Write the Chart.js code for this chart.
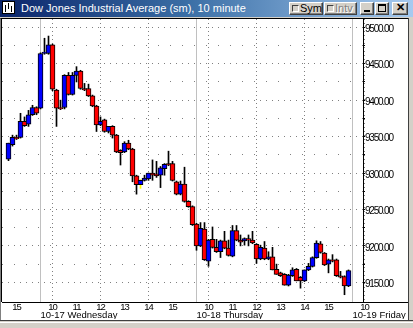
<!DOCTYPE html>
<html><head><meta charset="utf-8">
<script src="https://cdn.jsdelivr.net/npm/chart.js@4.4.1/dist/chart.umd.min.js"></script>
<style>
html,body{margin:0;padding:0;width:413px;height:328px;overflow:hidden;background:#D4D0C8;font-family:"Liberation Sans",Arial,sans-serif;}
#title{position:absolute;left:0;top:0;width:413px;height:17px;background:linear-gradient(to right,#0A246A 0%,#3A6EA5 45%,#A6CAF0 100%);}
#title .txt{position:absolute;left:21px;top:2px;color:#fff;font-size:11px;line-height:13px;white-space:nowrap;}
#icon{position:absolute;left:2px;top:1px;width:13px;height:13px;background:#fff;border:1px solid #000;box-sizing:border-box;}
#icon i{position:absolute;width:1px;background:#000;}
.btn{position:absolute;top:2px;height:13px;background:#D4D0C8;box-sizing:border-box;border:1px solid;border-color:#fff #404040 #404040 #fff;box-shadow:inset -1px -1px #808080;font-size:11px;line-height:11px;color:#000;white-space:nowrap;}
.btn .chk{position:absolute;left:2px;top:2px;width:7px;height:7px;box-sizing:border-box;border:1px solid;border-color:#404040 #fff #fff #404040;background:#D4D0C8;}
.btn .lbl{position:absolute;left:10px;top:0px;}
.btn.dis .lbl{color:#808080;text-shadow:1px 1px #fff;}
#panel{position:absolute;left:0;top:18px;width:408px;height:302px;background:#fff;border-left:1px solid #808080;border-top:1px solid #000;box-sizing:border-box;}
#panelL{position:absolute;left:1px;top:18px;width:1px;height:284px;background:#000;}
#axisR{position:absolute;left:363px;top:302px;width:45px;height:1px;background:#000;}
#rframe{position:absolute;left:408px;top:18px;width:1px;height:302px;background:#404040;}
#bframe{position:absolute;left:0;top:320px;width:413px;height:1px;background:#404040;}
#bframe2{position:absolute;left:0;top:322px;width:413px;height:1px;background:#fff;}
#c{position:absolute;left:0;top:0;}
</style></head>
<body>
<div id="title">
  <div id="icon"><i style="left:2px;top:3px;height:7px"></i><i style="left:5px;top:1px;height:6px"></i><i style="left:8px;top:4px;height:6px"></i></div>
  <div class="txt">Dow Jones Industrial Average (sm), 10 minute</div>
  <div class="btn" style="left:289px;width:34px"><span class="chk"></span><span class="lbl">Sym</span></div>
  <div class="btn dis" style="left:324px;width:33px"><span class="chk"></span><span class="lbl">Intv</span></div>
  <div class="btn" style="left:360px;width:14px"><span style="position:absolute;left:3px;top:7px;width:6px;height:2px;background:#000"></span></div>
  <div class="btn" style="left:375px;width:14px"><span style="position:absolute;left:2px;top:1px;width:8px;height:8px;border:1px solid #000;border-top-width:2px;box-sizing:border-box"></span></div>
  <div class="btn" style="left:392px;width:16px"><span style="position:absolute;left:3px;top:-1px;font-size:11px;font-weight:bold">✕</span></div>
</div>
<div id="panel"></div>
<div id="panelL"></div>
<div id="axisR"></div>
<div id="rframe"></div>
<div id="bframe"></div>
<div id="bframe2"></div>
<canvas id="c" width="413" height="328"></canvas>
<script>
// ---- data (10-minute bars) ----
const priorDayTimes = ['14:40','14:50','15:00','15:10','15:20','15:30','15:40','15:50'];
const sessionTimes = ['09:30','09:40','09:50','10:00','10:10','10:20','10:30','10:40','10:50','11:00','11:10','11:20','11:30','11:40','11:50','12:00','12:10','12:20','12:30','12:40','12:50','13:00','13:10','13:20','13:30','13:40','13:50','14:00','14:10','14:20','14:30','14:40','14:50','15:00','15:10','15:20','15:30','15:40','15:50'];
const dayNames = ['10-16','10-17','10-18'];

const opens = [9319,9339,9349,9349,9371,9367,9380,9390,
  9389,9464,9464,9476,9414,9390,9390,9434,9408,9434,9440,9416,9416,9406,9392,9366,9373,9357,9364,9352,9331,9329,9341,9333,9296,9284,9290,9292,9300,9299,9297,9306,9313,9313,9288,9271,9285,9261,9254,
  9230,9200,9223,9179,9209,9198,9192,9207,9197,9186,9221,9208,9207,9210,9208,9202,9182,9197,9182,9185,9168,9163,9161,9146,9159,9168,9157,9152,9167,9172,9184,9203,9190,9175,9181,9181,9159,9158,9145];
const highs = [9341,9352,9352,9382,9377,9386,9393,9391,
  9465,9485,9488,9477,9415,9400,9435,9438,9438,9446,9441,9423,9422,9407,9393,9377,9374,9364,9365,9353,9332,9343,9345,9334,9297,9291,9297,9300,9318,9316,9309,9313,9330,9316,9289,9289,9308,9262,9255,
  9231,9232,9232,9209,9226,9209,9208,9220,9208,9228,9228,9215,9211,9215,9220,9203,9201,9206,9192,9198,9175,9164,9162,9161,9170,9169,9158,9167,9176,9185,9207,9206,9191,9182,9188,9182,9165,9159,9167];
const lows = [9317,9337,9346,9348,9364,9364,9379,9380,
  9388,9463,9463,9413,9364,9387,9388,9407,9407,9425,9415,9413,9405,9391,9357,9365,9356,9355,9348,9328,9311,9328,9332,9288,9271,9279,9289,9290,9290,9294,9280,9297,9310,9289,9270,9270,9260,9253,9228,
  9194,9199,9180,9172,9197,9191,9184,9196,9186,9185,9207,9200,9201,9200,9203,9176,9181,9181,9181,9167,9161,9158,9146,9145,9158,9152,9142,9151,9166,9171,9183,9190,9173,9163,9178,9158,9156,9133,9144];
const closes = [9341,9349,9347,9371,9365,9380,9390,9382,
  9464,9466,9476,9415,9389,9388,9434,9408,9434,9440,9416,9414,9406,9392,9366,9371,9357,9364,9352,9329,9328,9341,9333,9296,9284,9290,9293,9300,9297,9296,9307,9312,9311,9290,9271,9285,9261,9254,9229,
  9200,9224,9181,9208,9198,9192,9207,9197,9187,9221,9208,9205,9210,9208,9204,9182,9198,9182,9185,9167,9161,9159,9146,9160,9167,9152,9152,9167,9172,9184,9204,9191,9174,9181,9179,9159,9157,9145,9166];

// axis ticks
const hourTickBars = [2,11,17,23,29,35,41,50,56,62,68,74,80,89];
const hourTickLabels = ['15','10','11','12','13','14','15','10','11','12','13','14','15','10'];
const dottedHours = ['10','12','14'];
const dayTickBars = [8,47,86];
const dayTickLabels = ['10-17 Wednesday','10-18 Thursday','10-19 Friday'];
const priceTicks = [9150,9175,9200,9225,9250,9275,9300,9325,9350,9375,9400,9425,9450,9475,9500];
const highlightWick = 33;

// ---- chart ----
const categories = [
  ...priorDayTimes.map(t => dayNames[0] + ' ' + t),
  ...sessionTimes.map(t => dayNames[1] + ' ' + t),
  ...sessionTimes.map(t => dayNames[2] + ' ' + t)
];
const bodies = categories.map((c, i) => ({x: i, y: [opens[i], closes[i]], t: c}));
const wicks = categories.map((c, i) => ({x: i, y: [lows[i], highs[i]], t: c}));

const X_MIN = -1.625, X_MAX = 88.625;
const sans = '"Liberation Sans",Arial,sans-serif';
function fixPad(s){ s.paddingLeft = 0; s.paddingRight = 0; s.paddingTop = 0; s.paddingBottom = 0; }

// condensed tick labels (the original uses a narrow bitmap font)
const tightLabels = {
  id: 'tightLabels',
  beforeDraw(chart) {
    [['x', '-1px'], ['y', '-1.2px']].forEach(([id, ls]) => {
      const s = chart.scales[id];
      if (s && !s._tight) {
        const orig = s.drawLabels;
        s.drawLabels = function (area) {
          const c = this.ctx; c.save(); c.letterSpacing = ls; orig.call(this, area); c.restore();
        };
        s._tight = true;
      }
    });
  }
};

new Chart(document.getElementById('c'), {
  type: 'bar',
  data: { datasets: [
    { label: 'body', data: bodies, barThickness: 5, grouped: false, order: 1,
      backgroundColor: ctx => { const i = ctx.dataIndex; return closes[i] >= opens[i] ? '#0000FF' : '#FF0000'; },
      borderColor: '#000', borderWidth: 1, borderSkipped: false },
    { label: 'wick', data: wicks, barThickness: 1, grouped: false, order: 2,
      backgroundColor: ctx => ctx.dataIndex === highlightWick ? '#FFFF00' : '#000', borderWidth: 0 }
  ]},
  plugins: [tightLabels],
  options: {
    responsive: false, animation: false, devicePixelRatio: 1,
    layout: { padding: { left: 2, top: 19, right: 5, bottom: 9 } },
    plugins: { legend: { display: false }, tooltip: { enabled: false } },
    scales: {
      x: {
        type: 'linear', position: 'bottom', min: X_MIN, max: X_MAX, offset: false, weight: 0,
        afterBuildTicks: s => { s.ticks = hourTickBars.map(v => ({ value: v })); },
        afterFit: s => { s.height = 8; fixPad(s); },
        ticks: { autoSkip: false, maxRotation: 0, padding: 1, color: '#000',
          font: { family: sans, size: 9.5, lineHeight: 1 },
          callback: (v, idx) => hourTickLabels[idx] },
        grid: { offset: false, drawTicks: false, lineWidth: 1,
          color: ctx => dottedHours.includes(hourTickLabels[ctx.index]) ? '#808080' : 'rgba(0,0,0,0)' },
        border: { display: true, color: '#000', width: 1, dash: [1, 3] }
      },
      xDay: {
        type: 'linear', position: 'bottom', min: X_MIN, max: X_MAX, offset: false, weight: 1,
        afterBuildTicks: s => { s.ticks = dayTickBars.map(v => ({ value: v })); },
        afterFit: s => { s.height = 9; fixPad(s); },
        ticks: { autoSkip: false, maxRotation: 0, padding: 1, align: 'start', color: '#000',
          font: { family: sans, size: 9.5, lineHeight: 1 },
          callback: (v, idx) => dayTickLabels[idx] },
        grid: { offset: false, drawTicks: false, lineWidth: 1, color: '#C0C0C0' },
        border: { display: false }
      },
      y: {
        type: 'linear', position: 'right', min: 9123, max: 9511.4,
        afterBuildTicks: s => { s.ticks = priceTicks.map(v => ({ value: v })); },
        afterFit: s => { s.width = 45; fixPad(s); },
        ticks: { padding: 0, labelOffset: 2, color: '#000', font: { family: sans, size: 10, lineHeight: 1 },
          callback: v => (v % 50 === 0 ? v.toFixed(2) : '') },
        grid: { color: '#808080', lineWidth: 1, drawTicks: true, tickLength: 2, tickColor: '#000' },
        border: { display: true, color: '#000', width: 1, dash: ctx => (ctx.tick && ctx.tick.value % 50 === 0 ? [1, 5] : [1, 11]) }
      }
    }
  }
});
</script>
</body></html>
